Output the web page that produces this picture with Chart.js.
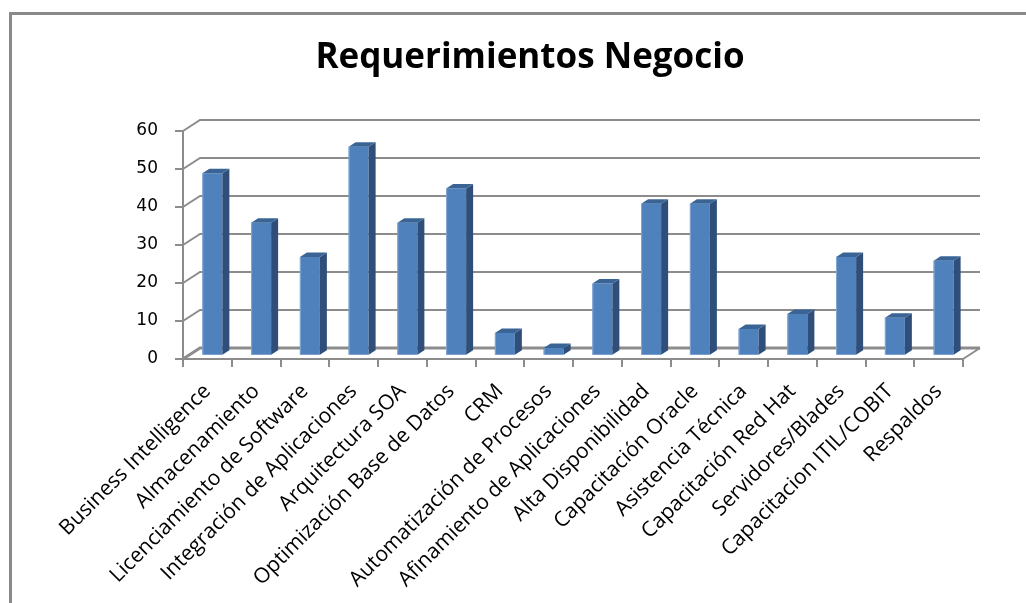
<!DOCTYPE html>
<html lang="es">
<head>
<meta charset="UTF-8">
<title>Requerimientos Negocio</title>
<script src="https://cdn.jsdelivr.net/npm/chart.js"></script>
<style>
  html, body { margin: 0; padding: 0; background: #fff; }
  #wrap { width: 1026px; height: 603px; }
</style>
</head>
<body>
<div id="wrap"><canvas id="chart"></canvas></div>
<script>
const categories = [
  'Business Intelligence', 'Almacenamiento', 'Licenciamiento de Software',
  'Integración de Aplicaciones', 'Arquitectura SOA', 'Optimización Base de Datos',
  'CRM', 'Automatización de Procesos', 'Afinamiento de Aplicaciones',
  'Alta Disponibilidad', 'Capacitación Oracle', 'Asistencia Técnica',
  'Capacitación Red Hat', 'Servidores/Blades', 'Capacitacion ITIL/COBIT', 'Respaldos'
];
const values = [48, 35, 26, 55, 35, 44, 6, 2, 19, 40, 40, 7, 11, 26, 10, 25];
const yTicks = [0, 10, 20, 30, 40, 50, 60];

// fake 3D box: back wall sits up-right of the front axes
const DX = 17, DY = -11;

const box3d = {
  id: 'box3d',
  beforeDraw(chart) {
    const ctx = chart.ctx;
    ctx.save();
    ctx.strokeStyle = '#8a8a8a';
    ctx.lineWidth = 3;
    ctx.strokeRect(10.5, 13.5, 1200, 800);
    ctx.restore();
  },
  beforeDatasetsDraw(chart) {
    const { ctx, chartArea: a, scales: { y } } = chart;
    ctx.save();
    ctx.strokeStyle = '#8c8c8c';
    yTicks.forEach(v => {
      const py = y.getPixelForValue(v);
      ctx.lineWidth = v === 0 ? 3 : 2;
      ctx.beginPath();
      ctx.moveTo(a.left, py);
      ctx.lineTo(a.left + DX, py + DY);
      ctx.lineTo(a.right + DX, py + DY);
      ctx.stroke();
    });
    ctx.lineWidth = 2;
    ctx.beginPath();
    ctx.moveTo(a.right, a.bottom);
    ctx.lineTo(a.right + DX, a.bottom + DY);
    ctx.stroke();
    ctx.restore();
    // bars stand a little inside the box
    ctx.save();
    ctx.translate(5, -3.3);
  },
  afterDatasetsDraw(chart) {
    const ctx = chart.ctx;
    chart.getDatasetMeta(0).data.forEach(bar => {
      const { x, y, base, width } = bar.getProps(['x', 'y', 'base', 'width'], true);
      const l = x - width / 2, r = x + width / 2;
      ctx.fillStyle = '#2f4f7a';
      ctx.beginPath();
      ctx.moveTo(r, y); ctx.lineTo(r + 7, y - 4.5);
      ctx.lineTo(r + 7, base - 4.5); ctx.lineTo(r, base);
      ctx.closePath(); ctx.fill();
      ctx.fillStyle = '#3a6496';
      ctx.beginPath();
      ctx.moveTo(l, y); ctx.lineTo(l + 7, y - 4.5);
      ctx.lineTo(r + 7, y - 4.5); ctx.lineTo(r, y);
      ctx.closePath(); ctx.fill();
      ctx.fillStyle = '#86a8d4';
      ctx.fillRect(l, y, 1, base - y);
    });
    ctx.restore();
  }
};

new Chart(document.getElementById('chart'), {
  type: 'bar',
  data: {
    labels: categories,
    datasets: [{
      data: values,
      backgroundColor: '#4f81bd',
      borderWidth: 0,
      barPercentage: 0.41,
      categoryPercentage: 1
    }]
  },
  options: {
    responsive: true,
    maintainAspectRatio: false,
    animation: false,
    layout: { padding: { top: 10, left: 97, right: 63, bottom: 0 } },
    plugins: {
      legend: { display: false },
      tooltip: { enabled: false },
      title: {
        display: true,
        text: 'Requerimientos Negocio',
        color: '#000',
        font: { family: 'Open Sans', size: 35, weight: 'bold' },
        padding: { top: 27, bottom: 52 }
      }
    },
    scales: {
      x: {
        afterFit: s => { s.height = 244; },
        grid: { drawOnChartArea: false, color: '#8c8c8c', lineWidth: 2, tickLength: 8 },
        border: { color: '#8c8c8c', width: 2 },
        ticks: {
          autoSkip: false, maxRotation: 45, minRotation: 45,
          color: '#000', font: { family: 'Open Sans', size: 21 }, padding: 12
        }
      },
      y: {
        min: 0, max: 60,
        afterFit: s => { s.width = 86; },
        grid: { drawOnChartArea: false, color: '#8c8c8c', lineWidth: 2, tickLength: 8 },
        border: { color: '#8c8c8c', width: 2 },
        ticks: {
          stepSize: 10, color: '#000', padding: 17,
          font: { family: 'DejaVu Sans', size: 17 }
        }
      }
    }
  },
  plugins: [box3d]
});
</script>
</body>
</html>
